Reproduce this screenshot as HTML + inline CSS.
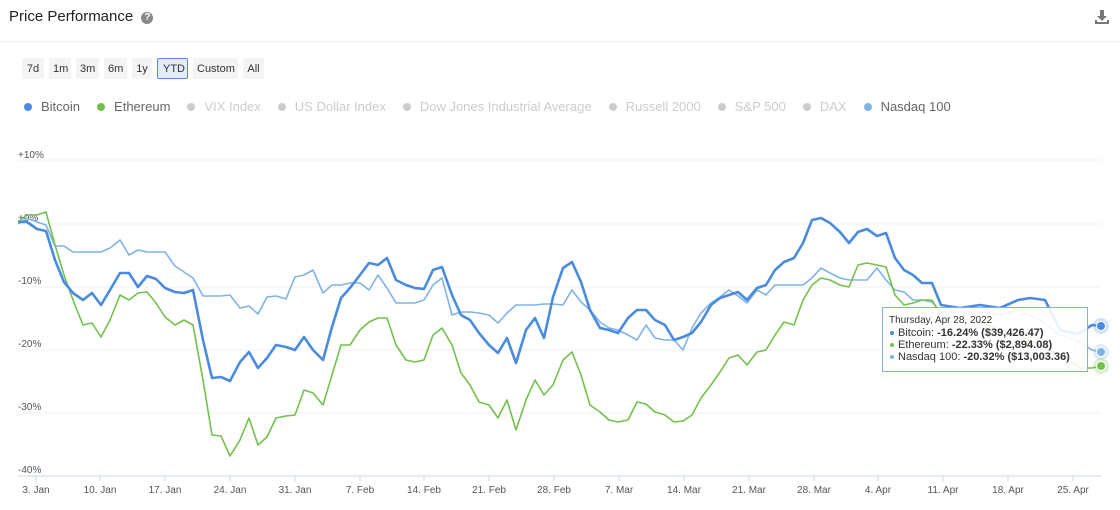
<!DOCTYPE html>
<html><head><meta charset="utf-8"><style>
body{margin:0;width:1120px;height:510px;background:#fff;font-family:"Liberation Sans",sans-serif;overflow:hidden;position:relative}
.t{position:absolute;left:9px;top:8px;font-size:15px;color:#222}
.q{display:inline-block;width:12px;height:12px;border-radius:50%;background:#888;color:#fff;font-size:10px;text-align:center;line-height:12px;font-weight:bold;vertical-align:1px;margin-left:4px}
.hr{position:absolute;left:0;right:0;top:41px;border-top:1px solid #eee}
.btns{position:absolute;left:22px;top:58px;display:flex;gap:5px}
.b{background:#f4f4f4;font-size:11px;color:#333;padding:0 4px;height:21px;line-height:22px;border-radius:2px;text-align:center}
.b.a{background:#e4ecfb;border:1px solid #5b86e5;height:19px;line-height:20px;padding:0 5px}
.leg{position:absolute;left:24px;top:99px;font-size:13px;color:#ccc;display:flex}
.leg span{margin-right:17px;display:flex;align-items:center}
.leg i{display:inline-block;width:8px;height:8px;border-radius:50%;background:#ccc;margin-right:9px}
</style></head><body>
<div class="t">Price Performance <span class="q">?</span></div>
<svg style="position:absolute;right:11px;top:10px" width="14" height="14"><path d="M5 0h4v6h3l-5 5-5-5h3z M0 10v4h14v-4h-2v2H2v-2z" fill="#777"/></svg>
<div class="hr"></div>
<div class="btns"><div class="b" style="width:14px">7d</div><div class="b" style="width:14px">1m</div><div class="b" style="width:15px">3m</div><div class="b" style="width:15px">6m</div><div class="b" style="width:12px">1y</div><div class="b a" style="width:19px">YTD</div><div class="b" style="width:37px">Custom</div><div class="b" style="width:13px">All</div></div>
<div class="leg"><span style="color:#666"><i style="background:#4a8be0"></i>Bitcoin</span><span style="color:#666"><i style="background:#72c14e"></i>Ethereum</span><span><i></i>VIX Index</span><span><i></i>US Dollar Index</span><span><i></i>Dow Jones Industrial Average</span><span><i></i>Russell 2000</span><span><i></i>S&amp;P 500</span><span><i></i>DAX</span><span style="color:#666"><i style="background:#7fb3e8"></i>Nasdaq 100</span></div>
<svg style="position:absolute;left:0;top:0" width="1120" height="510" font-family="Liberation Sans, sans-serif">
<g stroke="#f2f2f2" stroke-width="1"><line x1="18" x2="1101" y1="160" y2="160"/><line x1="18" x2="1101" y1="224" y2="224"/><line x1="18" x2="1101" y1="287" y2="287"/><line x1="18" x2="1101" y1="350" y2="350"/><line x1="18" x2="1101" y1="413" y2="413"/></g>
<line x1="18" x2="1101" y1="476" y2="476" stroke="#ccd6eb"/>
<g fill="#555" font-size="10"><text x="18" y="158">+10%</text><text x="18" y="221">+0%</text><text x="18" y="284">-10%</text><text x="18" y="347">-20%</text><text x="18" y="410">-30%</text><text x="18" y="473">-40%</text></g>
<g stroke="#ccd6eb"><line x1="36" x2="36" y1="476" y2="481"/><line x1="100" x2="100" y1="476" y2="481"/><line x1="165" x2="165" y1="476" y2="481"/><line x1="230" x2="230" y1="476" y2="481"/><line x1="295" x2="295" y1="476" y2="481"/><line x1="360" x2="360" y1="476" y2="481"/><line x1="424" x2="424" y1="476" y2="481"/><line x1="489" x2="489" y1="476" y2="481"/><line x1="554" x2="554" y1="476" y2="481"/><line x1="619" x2="619" y1="476" y2="481"/><line x1="684" x2="684" y1="476" y2="481"/><line x1="749" x2="749" y1="476" y2="481"/><line x1="814" x2="814" y1="476" y2="481"/><line x1="878" x2="878" y1="476" y2="481"/><line x1="943" x2="943" y1="476" y2="481"/><line x1="1008" x2="1008" y1="476" y2="481"/><line x1="1073" x2="1073" y1="476" y2="481"/></g>
<g fill="#555" font-size="10" text-anchor="middle"><text x="36" y="493">3. Jan</text><text x="100" y="493">10. Jan</text><text x="165" y="493">17. Jan</text><text x="230" y="493">24. Jan</text><text x="295" y="493">31. Jan</text><text x="360" y="493">7. Feb</text><text x="424" y="493">14. Feb</text><text x="489" y="493">21. Feb</text><text x="554" y="493">28. Feb</text><text x="619" y="493">7. Mar</text><text x="684" y="493">14. Mar</text><text x="749" y="493">21. Mar</text><text x="814" y="493">28. Mar</text><text x="878" y="493">4. Apr</text><text x="943" y="493">11. Apr</text><text x="1008" y="493">18. Apr</text><text x="1073" y="493">25. Apr</text></g>
<g fill="none" stroke-linejoin="round">
<polyline stroke="#7fb3e8" stroke-width="1.6" points="18,224 27,218 37,222 46,225 55,246 64,246 73,252 83,252 92,252 101,252 110,248 120,240 129,255 138,250 147,252 156,252 165,252 175,266 184,272 193,278 203,296 212,296 221,296 230,295 240,308 249,306 258,314 267,297 276,296 286,299 295,277 304,275 313,270 323,293 332,285 341,285 350,283 360,283 369,290 378,275 387,288 396,303 406,303 415,303 424,300 433,285 442,278 452,315 461,312 470,312 479,313 489,315 498,323 507,313 516,305 526,305 535,305 544,304 553,304 563,305 572,290 581,302 590,310 600,322 609,328 618,330 628,335 637,340 646,325 655,338 665,340 674,340 683,350 692,328 701,313 711,303 720,297 729,290 738,296 747,303 757,290 766,295 775,285 784,285 794,285 803,285 812,278 821,268 830,273 840,278 849,280 858,280 867,280 877,268 886,280 895,290 904,292 913,300 922,300 932,302 941,312 960,312 980,312 1000,315 1018,310 1040,320 1060,335 1080,342 1092,350 1101,352"/>
<polyline stroke="#72c14e" stroke-width="1.6" points="18,222 27,215 37,215 46,212 55,245 64,275 73,300 83,325 92,323 101,337 110,320 120,295 129,300 138,293 147,292 156,303 165,317 175,325 184,320 193,325 203,380 212,435 221,436 230,456 240,440 249,418 258,445 267,437 276,418 286,416 295,415 304,390 313,393 323,405 332,375 341,345 350,345 360,330 369,322 378,318 387,318 396,345 406,360 415,362 424,360 433,335 442,328 452,345 461,373 470,385 479,402 489,405 498,418 507,400 516,430 526,400 535,380 544,395 553,385 563,360 572,352 581,375 590,405 600,412 609,420 618,422 628,420 637,402 646,404 655,412 665,415 674,422 683,421 692,415 701,398 711,385 720,372 729,358 738,355 747,365 757,352 766,350 775,335 784,322 794,325 803,300 812,285 821,278 830,280 840,285 849,287 858,265 867,263 877,265 886,267 895,295 904,305 913,303 922,300 932,300 941,315 960,318 980,322 1000,330 1018,335 1040,345 1060,355 1080,368 1092,368 1101,366"/>
<polyline stroke="#4a8be0" stroke-width="2.6" points="18,222 27,222 37,229 46,231 55,260 64,282 73,293 83,300 92,293 101,305 110,290 120,273 129,273 138,287 147,276 156,279 165,288 175,292 184,293 193,290 203,340 212,378 221,377 230,381 240,362 249,352 258,368 267,358 276,345 286,347 295,350 304,337 313,350 323,360 332,327 341,298 350,288 360,275 369,263 378,265 387,258 396,280 406,285 415,288 424,289 433,270 442,267 452,295 461,315 470,320 479,333 489,345 498,353 507,338 516,363 526,330 535,318 544,338 553,297 563,268 572,262 581,282 590,310 600,328 609,330 618,333 628,318 637,310 646,310 655,320 665,325 674,340 683,337 692,333 701,322 711,305 720,298 729,295 738,292 747,300 757,288 766,285 775,270 784,262 794,258 803,243 812,220 821,218 830,223 840,232 849,243 858,232 867,229 877,236 886,233 895,258 904,270 913,275 922,283 932,283 941,305 960,308 980,305 1000,308 1018,300 1030,298 1045,300 1060,330 1078,334 1092,325 1101,326"/>
</g>
<circle cx="1101" cy="326" r="8" fill="#4a8be0" fill-opacity=".25"/><circle cx="1101" cy="326" r="4.5" fill="#4a8be0" stroke="#fff"/>
<circle cx="1101" cy="352" r="8" fill="#7fb3e8" fill-opacity=".25"/><circle cx="1101" cy="352" r="4.5" fill="#7fb3e8" stroke="#fff"/>
<circle cx="1101" cy="366" r="8" fill="#72c14e" fill-opacity=".25"/><circle cx="1101" cy="366" r="4.5" fill="#72c14e" stroke="#fff"/>
<rect x="882.5" y="307.5" width="205" height="64" fill="#fff" fill-opacity=".88" stroke="#7fb3e8"/>
<g font-size="10" fill="#333"><text x="889" y="323">Thursday, Apr 28, 2022</text>
<circle cx="892" cy="333" r="2" fill="#4a8be0"/><text x="898" y="336" font-size="11">Bitcoin: <tspan font-weight="bold">-16.24% ($39,426.47)</tspan></text>
<circle cx="892" cy="345" r="2" fill="#72c14e"/><text x="898" y="348" font-size="11">Ethereum: <tspan font-weight="bold">-22.33% ($2,894.08)</tspan></text>
<circle cx="892" cy="357" r="2" fill="#7fb3e8"/><text x="898" y="360" font-size="11">Nasdaq 100: <tspan font-weight="bold">-20.32% ($13,003.36)</tspan></text></g>
</svg>
</body></html>
